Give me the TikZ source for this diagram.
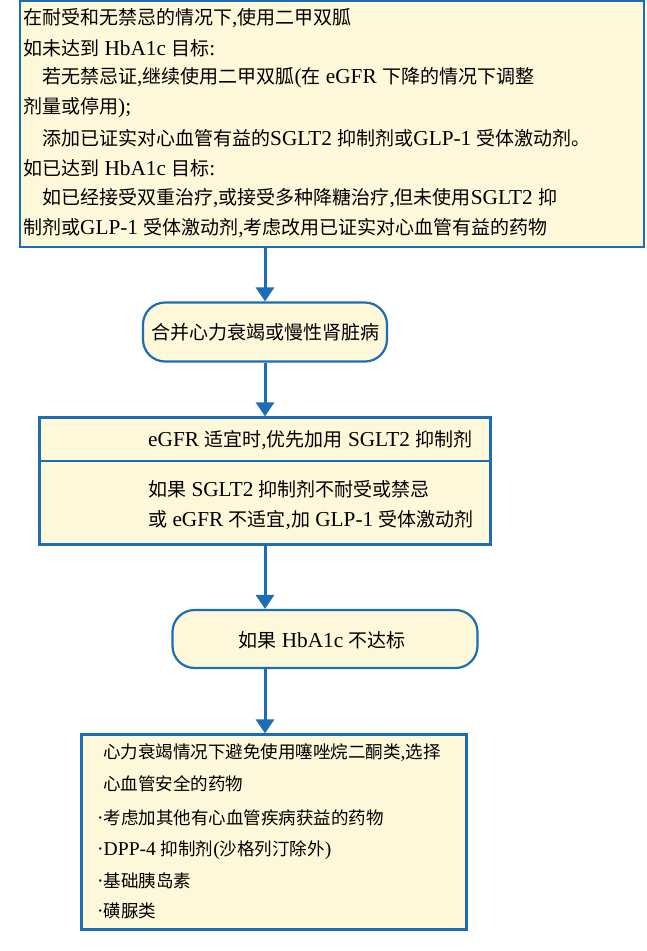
\documentclass[tikz,border=0pt]{standalone}
\usepackage{fontspec}
\setmainfont{Noto Sans CJK SC}
\newfontfamily\lat[Scale=1.12]{Liberation Serif}
\newcommand{\Lt}[1]{{\lat #1}}
\usetikzlibrary{arrows.meta}
\definecolor{bl}{HTML}{1C6DB4}
\definecolor{yl}{HTML}{FDF8DA}
\begin{document}
\begin{tikzpicture}[x=1pt,y=-1pt,
  box/.style={draw=bl,line width=2.2pt,fill=yl,inner sep=0pt},
  rbox/.style={box,rounded corners=22pt},
  txt/.style={anchor=west,inner sep=0pt,font=\fontsize{19}{19}\selectfont},
  stxt/.style={txt,font=\fontsize{17.5}{17.5}\selectfont},
  arr/.style={draw=bl,line width=3pt,-{Triangle[length=14pt,width=18pt]}}]
\useasboundingbox (0,0) rectangle (646,951);
\node[box,minimum width=624pt,minimum height=246pt] (b1) at (332,124) {};
\node[rbox,minimum width=244pt,minimum height=59pt] (b2) at (265,332) {};
\node[box,minimum width=451pt,minimum height=127pt] (b3) at (265,481) {};
\coordinate (dl) at (40,461); \coordinate (dr) at (491,461);
\draw[bl,line width=2.2pt] (dl) -- (dr);
\node[rbox,minimum width=305pt,minimum height=58pt] (b4) at (325,639) {};
\node[box,minimum width=385pt,minimum height=195pt] (b5) at (274,832) {};
\draw[arr] (b1.south -| b2) -- (b2.north);
\draw[arr] (b2.south) -- (b2.south |- b3.north);
\draw[arr] (b3.south) -- (b3.south |- b4.north);
\draw[arr] (b3.south |- b4.south) -- (b3.south |- b5.north);
\node[txt] (t1) at (23,18) {在耐受和无禁忌的情况下\Lt{,}使用二甲双胍};
\node[txt] (t2) at (23,48) {如未达到\Lt{ HbA1c }目标\Lt{:}};
\node[txt] (t3) at (42,78) {若无禁忌证\Lt{,}继续使用二甲双胍\Lt{(}在\Lt{ eGFR }下降的情况下调整};
\node[txt] (t4) at (23,108) {剂量或停用\Lt{);}};
\node[txt] (t5) at (42,138) {添加已证实对心血管有益的\Lt{SGLT2 }抑制剂或\Lt{GLP-1 }受体激动剂。};
\node[txt] (t6) at (23,168) {如已达到\Lt{ HbA1c }目标\Lt{:}};
\node[txt] (t7) at (42,198) {如已经接受双重治疗\Lt{,}或接受多种降糖治疗\Lt{,}但未使用\Lt{SGLT2 }抑};
\node[txt] (t8) at (23,228) {制剂或\Lt{GLP-1 }受体激动剂\Lt{,}考虑改用已证实对心血管有益的药物};
\node[txt,anchor=center] (t9) at (265,332) {合并心力衰竭或慢性肾脏病};
\node[txt] (t10) at (148,440) {\Lt{eGFR }适宜时\Lt{,}优先加用\Lt{ SGLT2 }抑制剂};
\node[txt] (t11) at (148,489) {如果\Lt{ SGLT2 }抑制剂不耐受或禁忌};
\node[txt] (t12) at (148,520) {或\Lt{ eGFR }不适宜\Lt{,}加\Lt{ GLP-1 }受体激动剂};
\node[txt,anchor=center] (t13) at (322,640) {如果\Lt{ HbA1c }不达标};
\node[stxt] (t14) at (103,753) {心力衰竭情况下避免使用噻唑烷二酮类\Lt{,}选择};
\node[stxt] (t15) at (103,784) {心血管安全的药物};
\node[stxt] (t16) at (97,818) {\Lt{·}考虑加其他有心血管疾病获益的药物};
\node[stxt] (t17) at (97,850) {\Lt{·DPP-4 }抑制剂\Lt{(}沙格列汀除外\Lt{)}};
\node[stxt] (t18) at (97,881) {\Lt{·}基础胰岛素};
\node[stxt] (t19) at (97,911) {\Lt{·}磺脲类};
\end{tikzpicture}
\end{document}
